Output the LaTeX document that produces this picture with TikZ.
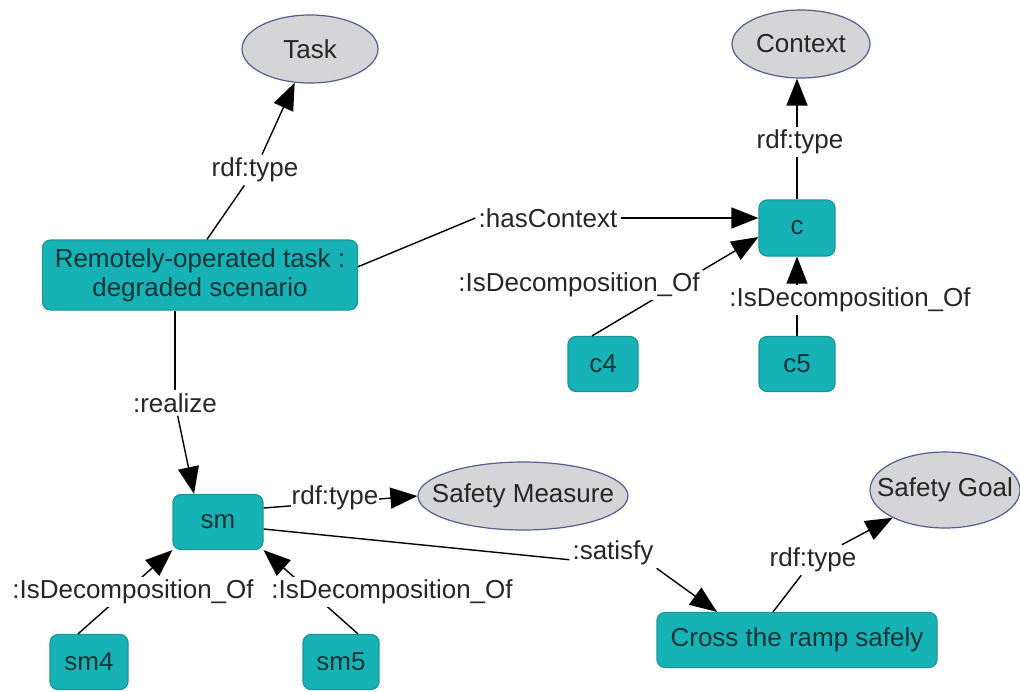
\documentclass[tikz,border=0pt]{standalone}
\usepackage{fontspec}
\setmainfont{Liberation Sans}
\usetikzlibrary{arrows.meta,shapes.geometric}

\definecolor{boxteal}{HTML}{17B2B5}
\definecolor{boxedge}{HTML}{1C9597}
\definecolor{boxtext}{HTML}{173436}
\definecolor{ovalgrey}{HTML}{D5D5D7}
\definecolor{ovaledge}{HTML}{4F5F8F}

\newcommand{\clsname}[1]{\makebox[0pt]{#1}}

\begin{document}
\begin{tikzpicture}[x=1pt, y=-1pt,
    font=\fontsize{26}{29}\selectfont,
    inst/.style={draw=boxedge, fill=boxteal, rounded corners=8pt, line width=1.2pt, text=boxtext, inner sep=0pt, align=center},
    cls/.style={ellipse, draw=ovaledge, fill=ovalgrey, line width=1.2pt, inner sep=0pt, text=black!85},
    lbl/.style={fill=white, inner sep=3pt, text=black!85},
    edge/.style={line width=1.4pt, -{Triangle[length=27pt, width=21pt]}},
    plain/.style={line width=1.4pt}]
    \useasboundingbox (0, 0) rectangle (1020, 691);

    \node[cls, minimum width=136pt, minimum height=68pt] (task) at (310, 49) {\clsname{Task}};
    \node[cls, minimum width=138pt, minimum height=68pt] (ctx) at (801, 44) {\clsname{Context}};
    \node[cls, minimum width=210pt, minimum height=68pt] (smc) at (523, 496) {\clsname{Safety Measure}};
    \node[cls, minimum width=150pt, minimum height=76pt] (sg) at (945, 490) {\clsname{Safety Goal}};

    \node[inst, minimum width=315pt, minimum height=70pt] (rot) at (200, 275) {Remotely-operated task :\\ degraded scenario};
    \node[inst, minimum width=76pt, minimum height=56pt] (c) at (797, 228) {c};
    \node[inst, minimum width=70pt, minimum height=55pt] (c4) at (603, 364) {c4};
    \node[inst, minimum width=76pt, minimum height=55pt] (c5) at (797, 364) {c5};
    \node[inst, minimum width=90pt, minimum height=55pt] (sm) at (218, 522) {sm};
    \node[inst, minimum width=78pt, minimum height=55pt] (sm4) at (89, 662) {sm4};
    \node[inst, minimum width=76pt, minimum height=55pt] (sm5) at (341, 662) {sm5};
    \node[inst, minimum width=280pt, minimum height=55pt] (cross) at (797, 640) {Cross the ramp safely};

    % straight edges, labels are laid over them
    \draw[edge] (c.north) -- (c.north |- ctx.south);
    \draw[edge] ([xshift=-11pt]c4.north) -- ([yshift=-9pt]c.west);
    \draw[edge] (c5) -- (c);
    \draw[edge] ([yshift=14pt]sm.east) -- (smc.west);
    \draw[edge] ([xshift=-11pt]sm4.north) -- (sm.south west);
    \draw[edge] ([xshift=17pt]sm5.north) -- (sm.south east);

    \node[lbl] (tasklbl) at (255, 170) {rdf:type};
    \node[lbl] (hclbl) at (548, 218) {:hasContext};
    \node[lbl] (realbl) at (175, 403) {:realize};
    \node[lbl] (ctxlbl) at (800, 142) {rdf:type};
    \node[lbl] (c4lbl) at (579, 285) {:IsDecomposition\_Of};
    \node[lbl] (c5lbl) at (850, 300) {:IsDecomposition\_Of};
    \node[lbl, inner sep=1pt] (smlbl) at (335, 498) {rdf:type};
    \node[lbl] (satlbl) at (613, 553) {:satisfy};
    \node[lbl] (sm4lbl) at (133, 592) {:IsDecomposition\_Of};
    \node[lbl] (sm5lbl) at (392, 592) {:IsDecomposition\_Of};
    \node[lbl] (sglbl) at (813, 560) {rdf:type};

    % edges bent at their labels
    \draw[plain] ([xshift=7pt]rot.north) -- (tasklbl);
    \draw[edge] (tasklbl) -- (task);
    \draw[plain] (rot.3) -- (hclbl.west);
    \draw[edge] (hclbl.east) -- (hclbl.east -| c.west);
    \draw[plain] ([xshift=-25pt]rot.south) -- (realbl);
    \draw[edge] (realbl) -- ([xshift=-24pt]sm.north);
    \draw[plain] ([yshift=-7pt]sm.east) -- (satlbl.base west);
    \draw[edge] (satlbl.south east) -- ([xshift=-80pt]cross.north);
    \draw[plain] ([xshift=-24pt]cross.north) -- (sglbl);
    \draw[edge] (sglbl) -- (sg);
\end{tikzpicture}
\end{document}
